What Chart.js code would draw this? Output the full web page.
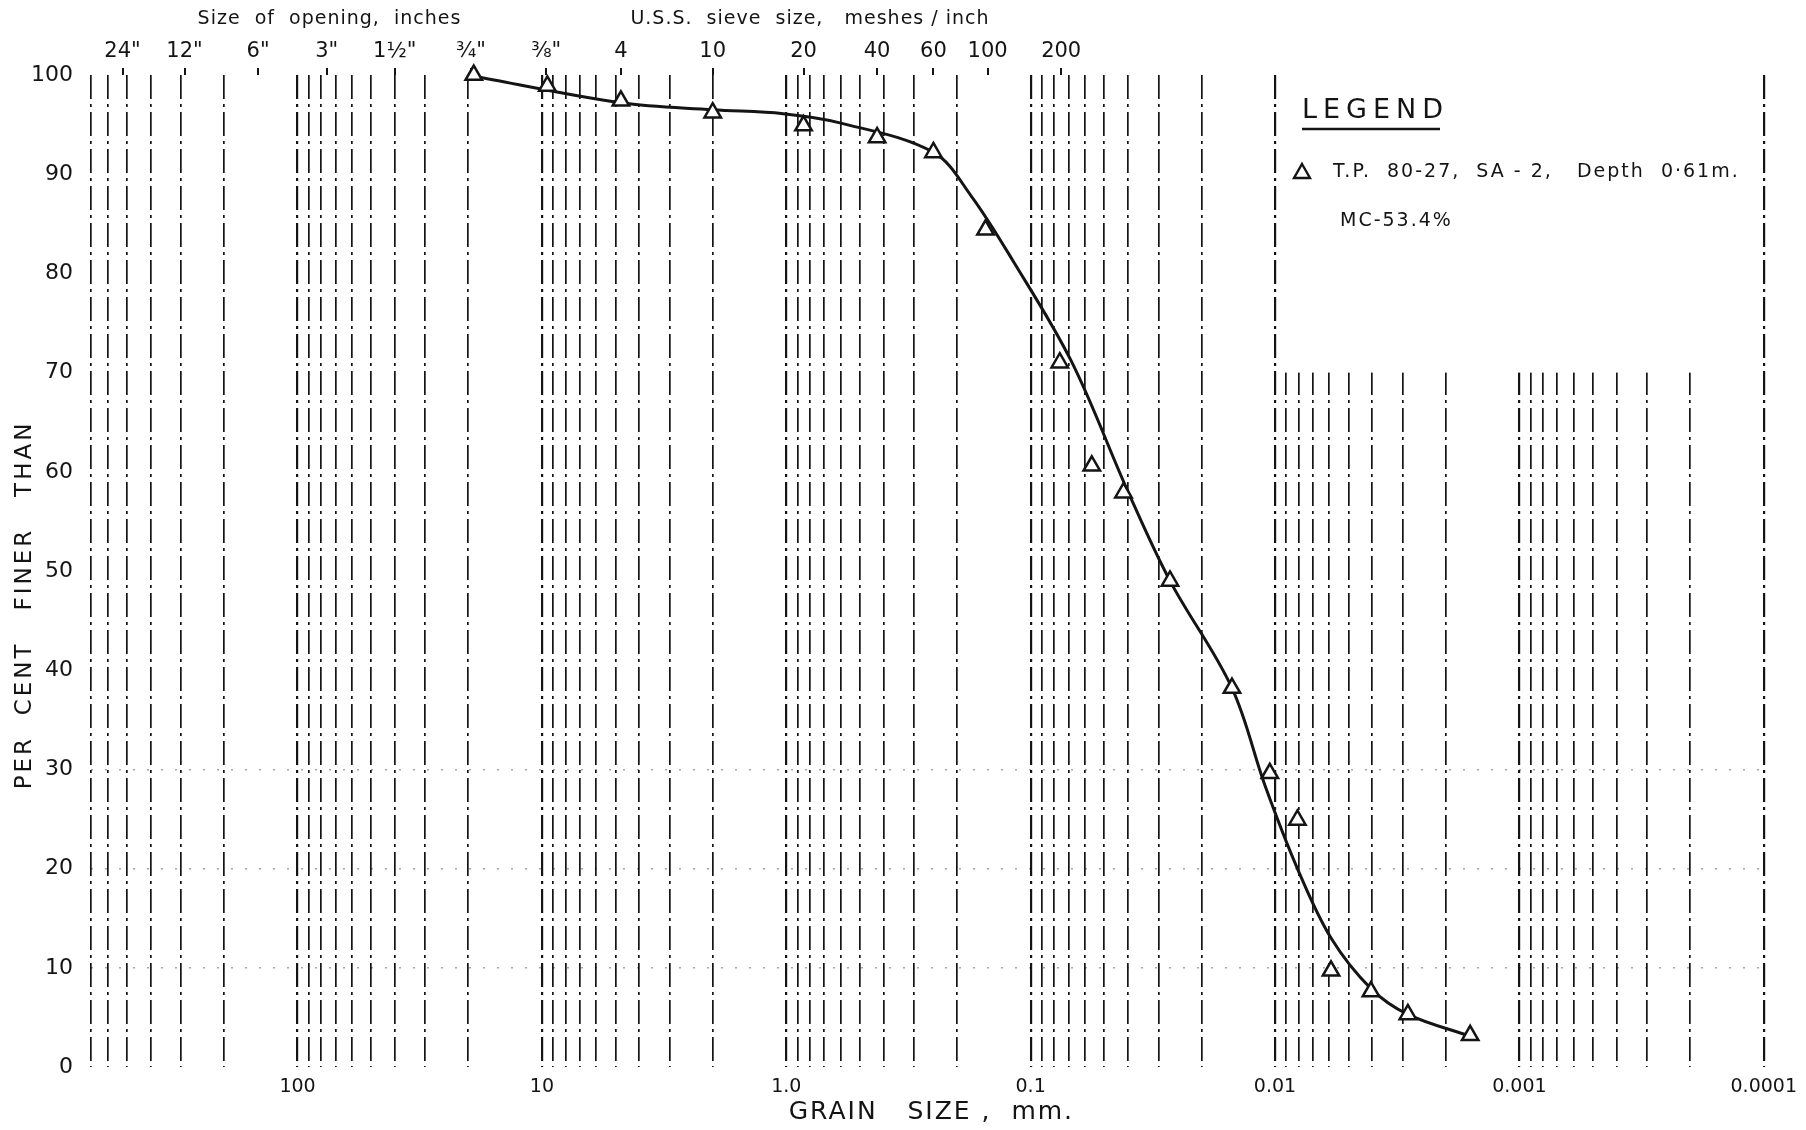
<!DOCTYPE html>
<html>
<head>
<meta charset="utf-8">
<title>Grain size distribution - T.P. 80-27</title>
<script src="https://cdn.jsdelivr.net/npm/chart.js@4.4.1/dist/chart.umd.min.js"></script>
<style>
  html, body { margin: 0; padding: 0; background: #fff; }
</style>
</head>
<body>
<canvas id="gradationChart" width="1806" height="1130"></canvas>
<script>
// test results: grain size (mm) vs per cent finer
const sampleSize = [19.0, 9.5, 4.75, 2.0, 0.85, 0.425, 0.25, 0.153, 0.076, 0.0562, 0.0417, 0.0269, 0.0150, 0.0105, 0.0081, 0.0059, 0.00405, 0.00286, 0.00159];
const samplePercent = [100, 98.9, 97.4, 96.2, 94.9, 93.7, 92.2, 84.4, 71.0, 60.6, 57.9, 49.0, 38.2, 29.6, 24.9, 9.7, 7.6, 5.3, 3.2];

// the hand drawn gradation curve
const curveSize = [18.3, 4.75, 2.0, 1.03, 0.61, 0.25, 0.175, 0.119, 0.068, 0.0398, 0.0269, 0.0150, 0.0110, 0.0080, 0.0059, 0.00405, 0.00286, 0.00159];
const curvePercent = [99.8, 97.2, 96.5, 96.1, 95.2, 92.2, 87.8, 81.4, 71.1, 57.9, 49.0, 38.2, 28.4, 19.7, 13.0, 7.9, 5.3, 3.1];

// bottom axis labels
const decadeValues = [100, 10, 1, 0.1, 0.01, 0.001, 0.0001];
const decadeLabels = ['100', '10', '1.0', '0.1', '0.01', '0.001', '0.0001'];

// top axis: opening sizes and U.S.S. sieve numbers
const sieveValues = [520, 290, 145, 76, 40, 19.5, 9.6, 4.75, 2.0, 0.85, 0.425, 0.25, 0.15, 0.075];
const sieveLabels = ['24"', '12"', '6"', '3"', '1½"', '¾"', '⅜"', '4', '10', '20', '40', '60', '100', '200'];

const percentTicks = [0, 10, 20, 30, 40, 50, 60, 70, 80, 90, 100];

const FONT = "'DejaVu Sans', sans-serif";
const INK = '#141414';

function sameValue(a, b) {
    return Math.abs(a / b - 1) < 1e-6;
}

const sheetText = {
    id: 'sheetText',
    beforeDatasetsDraw(chart) {
        const {ctx, scales: {x, y}} = chart;
        // legend panel sits over the grid in the upper right
        const left = x.getPixelForValue(0.0095);
        const right = x.getPixelForValue(0.000103);
        const top = y.getPixelForValue(100) - 4;
        const bottom = y.getPixelForValue(70);
        ctx.save();
        ctx.fillStyle = '#fff';
        ctx.fillRect(left, top, right - left, bottom - top);
        ctx.restore();
    },
    afterDraw(chart) {
        const {ctx, chartArea, scales: {x}} = chart;
        ctx.save();
        ctx.fillStyle = INK;
        ctx.strokeStyle = INK;

        // headings above the top axis
        ctx.font = '19px ' + FONT;
        ctx.textAlign = 'center';
        ctx.textBaseline = 'middle';
        ctx.letterSpacing = '1px';
        ctx.fillText('Size  of  opening,  inches', x.getPixelForValue(74), 19);
        ctx.fillText('U.S.S.  sieve  size,   meshes / inch', x.getPixelForValue(0.8), 19);

        // bottom axis title
        ctx.font = '25px ' + FONT;
        ctx.letterSpacing = '2px';
        ctx.fillText('GRAIN   SIZE ,  mm.', (chartArea.left + chartArea.right) / 2 + 4, 1112);

        // y axis title
        ctx.save();
        ctx.translate(25, 605);
        ctx.rotate(-Math.PI / 2);
        ctx.font = '23px ' + FONT;
        ctx.letterSpacing = '3px';
        ctx.fillText('PER  CENT   FINER   THAN', 0, 0);
        ctx.restore();

        // legend
        ctx.textAlign = 'left';
        ctx.font = '27px ' + FONT;
        ctx.letterSpacing = '6px';
        ctx.fillText('LEGEND', 1302, 111);
        ctx.lineWidth = 2.5;
        ctx.beginPath();
        ctx.moveTo(1302, 129);
        ctx.lineTo(1440, 129);
        ctx.stroke();

        ctx.lineWidth = 2.4;
        ctx.beginPath();
        ctx.moveTo(1302, 164);
        ctx.lineTo(1310, 178);
        ctx.lineTo(1294, 178);
        ctx.closePath();
        ctx.stroke();

        ctx.font = '19px ' + FONT;
        ctx.letterSpacing = '2px';
        ctx.fillText('T.P.  80-27,  SA - 2,   Depth  0·61m.', 1333, 172);
        ctx.fillText('MC-53.4%', 1340, 221);
        ctx.restore();
    }
};

new Chart(document.getElementById('gradationChart'), {
    type: 'line',
    data: {
        datasets: [{
            label: 'T.P. 80-27, SA - 2, Depth 0·61m.',
            data: sampleSize.map((s, i) => ({x: s, y: samplePercent[i]})),
            showLine: false,
            pointStyle: 'triangle',
            pointRadius: 9.5,
            pointHoverRadius: 9.5,
            pointBorderWidth: 2.5,
            pointBackgroundColor: '#fff',
            pointBorderColor: INK,
            clip: false,
            order: 0
        }, {
            label: 'Gradation curve',
            data: curveSize.map((s, i) => ({x: s, y: curvePercent[i]})),
            borderColor: INK,
            borderWidth: 3,
            pointRadius: 0,
            tension: 0.35,
            fill: false,
            clip: false,
            order: 1
        }]
    },
    options: {
        responsive: false,
        animation: false,
        devicePixelRatio: 1,
        layout: {padding: {left: 0, right: 39, top: 0, bottom: 0}},
        plugins: {
            legend: {display: false},
            tooltip: {enabled: false}
        },
        scales: {
            x: {
                type: 'logarithmic',
                position: 'bottom',
                reverse: true,
                min: 0.0001,
                max: 700,
                afterBuildTicks(scale) {
                    // only the whole 1..9 lines of each decade
                    scale.ticks = scale.ticks.filter(t => {
                        const m = t.value / Math.pow(10, Math.floor(Math.log10(t.value) + 1e-9));
                        return Math.abs(m - Math.round(m)) < 1e-6;
                    });
                },
                afterFit(scale) { scale.height = 63; },
                border: {display: false, dash: [24, 5, 3, 5]},
                grid: {
                    color: INK,
                    lineWidth: ctx => decadeValues.some(d => sameValue(ctx.tick.value, d)) ? 2.2 : 1.7,
                    drawTicks: false
                },
                ticks: {
                    autoSkip: false,
                    maxRotation: 0,
                    padding: 9,
                    color: INK,
                    font: {family: FONT, size: 19},
                    callback(value) {
                        const i = decadeValues.findIndex(d => sameValue(value, d));
                        return i >= 0 ? decadeLabels[i] : '';
                    }
                }
            },
            x2: {
                type: 'logarithmic',
                position: 'top',
                reverse: true,
                min: 0.0001,
                max: 700,
                afterBuildTicks(scale) {
                    scale.ticks = sieveValues.map(v => ({value: v}));
                },
                afterFit(scale) { scale.height = 75; },
                border: {display: false},
                grid: {drawOnChartArea: false, color: INK, lineWidth: 2, tickLength: 7},
                ticks: {
                    autoSkip: false,
                    maxRotation: 0,
                    padding: 4,
                    color: INK,
                    font: {family: FONT, size: 21},
                    callback(value, index) {
                        return sieveLabels[index];
                    }
                }
            },
            y: {
                type: 'linear',
                min: 0,
                max: 100,
                afterBuildTicks(scale) {
                    scale.ticks = percentTicks.map(v => ({value: v}));
                },
                afterFit(scale) { scale.width = 91; },
                border: {display: false, dash: [2, 12]},
                grid: {
                    drawTicks: false,
                    lineWidth: 1.5,
                    color: ctx => [10, 20, 30].includes(ctx.tick.value) ? 'rgba(0,0,0,0.35)' : 'rgba(0,0,0,0)'
                },
                ticks: {
                    padding: 18,
                    color: INK,
                    font: {family: FONT, size: 22}
                }
            }
        }
    },
    plugins: [sheetText]
});
</script>
</body>
</html>
